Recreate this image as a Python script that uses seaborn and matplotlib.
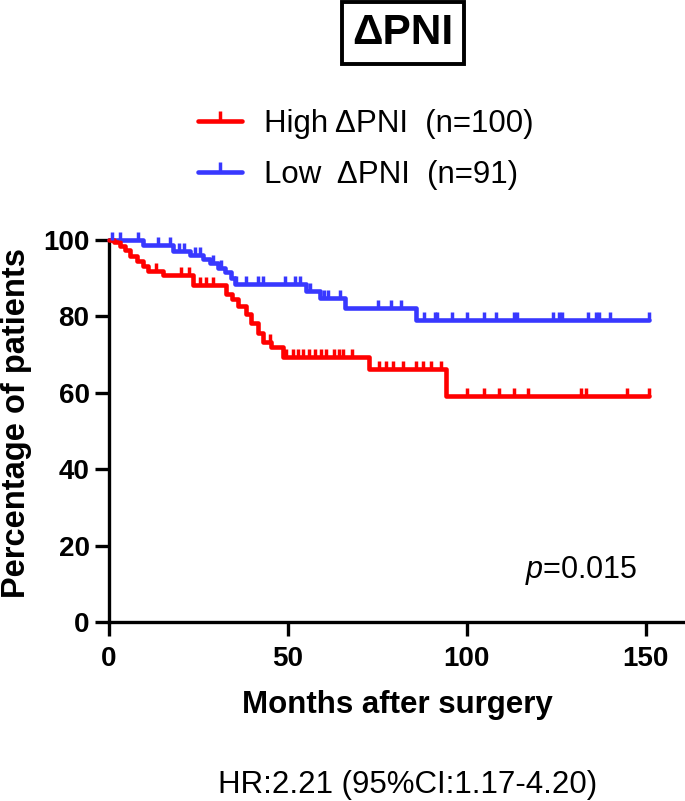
import numpy as np
import pandas as pd
import matplotlib
matplotlib.use("Agg")
import matplotlib.pyplot as plt
import seaborn as sns
from matplotlib.lines import Line2D

# ---------------- data ----------------
group_labels = ["High ΔPNI  (n=100)", "Low  ΔPNI  (n=91)"]
group_colors = ["#FF0000", "#3838FF"]

high_times = [0, 1.5, 3.1, 4.5, 5.9, 7.7, 9.6, 11.0, 15.2, 23.5, 32.8, 34.5, 36.1,
              38.4, 39.8, 41.7, 43.1, 45.4, 48.5, 72.8, 94.2]
high_surv = [100, 99.5, 98.3, 97.3, 95.9, 94.6, 93.3, 91.9, 90.8, 88.2, 85.9, 84.6, 82.7,
             80.6, 78.3, 75.7, 73.4, 71.9, 69.5, 66.2, 59.2]
high_censor = [13, 20, 22.3, 25.5, 27, 29, 45, 49.6, 51.4, 52.8, 54.2, 56, 57.5, 59.3,
               60.7, 63, 64.4, 65.4, 67.9, 75.6, 77.5, 79.3, 82.1, 85.8, 87.9, 90, 92.8,
               100.2, 104.9, 109.1, 113.1, 117, 131.8, 133.2, 144.9, 151]

low_times = [0, 9.6, 17.9, 22.6, 26.3, 28.2, 30.5, 32.4, 34.2, 35.1, 55.1, 58.9, 65.9, 85.9]
low_surv = [100, 98.7, 97.1, 96.1, 95.0, 94.0, 92.7, 91.6, 90.1, 88.5, 86.6, 84.9, 82.3, 79.1]
low_censor = [0.7, 3.1, 8.2, 13.8, 17.0, 19.5, 21, 24, 25.4, 29, 31.4, 35.6, 38.4, 41.7,
              43.1, 49.1, 52, 53.3, 56.3, 60, 61.2, 64.5, 75.1, 78.9, 81.6, 88.1, 91, 91.8,
              96, 100.2, 104.9, 108.1, 113.2, 114, 124, 125.8, 126.7, 134, 136, 137, 140, 151]

follow_up_end = 151
x_ticks = [0, 50, 100, 150]
y_ticks = [0, 20, 40, 60, 80, 100]
title_text = "ΔPNI"
xlabel_text = "Months after surgery"
ylabel_text = "Percentage of patients"
p_text = r"$\mathit{p}$=0.015"
hr_text = "HR:2.21 (95%CI:1.17-4.20)"

# ---------------- build tables ----------------
def curve_df(times, surv, label):
    t = list(times) + [follow_up_end]
    s = list(surv) + [surv[-1]]
    return pd.DataFrame({"time": t, "surv": s, "group": label})

def censor_df(times, surv, ctimes, label):
    tt = np.asarray(times)
    ss = np.asarray(surv)
    idx = np.searchsorted(tt, np.asarray(ctimes), side="right") - 1
    return pd.DataFrame({"time": ctimes, "surv": ss[idx], "group": label})

curves = pd.concat([curve_df(low_times, low_surv, group_labels[1]),
                    curve_df(high_times, high_surv, group_labels[0])], ignore_index=True)
cens = pd.concat([censor_df(low_times, low_surv, low_censor, group_labels[1]),
                  censor_df(high_times, high_surv, high_censor, group_labels[0])], ignore_index=True)
palette = dict(zip(group_labels, group_colors))

# ---------------- style ----------------
sns.set_style("ticks")
plt.rcParams["font.family"] = ["Liberation Sans", "DejaVu Sans"]
plt.rcParams["mathtext.fontset"] = "custom"
plt.rcParams["mathtext.it"] = "Liberation Sans:italic"
plt.rcParams["mathtext.rm"] = "Liberation Sans"
for k in ["text.color", "axes.labelcolor", "xtick.color", "ytick.color", "axes.edgecolor"]:
    plt.rcParams[k] = "black"

fig = plt.figure(figsize=(6.85, 8.01), dpi=100)
ax = fig.add_axes([109/685, 1-622/801, 576/685, (622-240)/801])

for g in [group_labels[1], group_labels[0]]:
    sns.lineplot(data=curves[curves.group == g], x="time", y="surv", color=palette[g],
                 drawstyle="steps-post", lw=3.3, estimator=None, sort=True,
                 clip_on=False, ax=ax, legend=False, zorder=3 if g == group_labels[0] else 2)
    sns.scatterplot(data=cens[cens.group == g], x="time", y="surv", color=palette[g],
                    marker=2, s=36, linewidth=2.5, clip_on=False, ax=ax, legend=False,
                    zorder=4)

ax.set_xlim(0, 161)
ax.set_ylim(0, 100)
ax.set_xticks(x_ticks)
ax.set_yticks(y_ticks)
ax.set_xlabel("")
ax.set_ylabel("")
for s in ["top", "right"]:
    ax.spines[s].set_visible(False)
for s in ["left", "bottom"]:
    ax.spines[s].set_linewidth(2.4)
    ax.spines[s].set_color("black")
ax.tick_params(axis="both", length=10, width=2.4, labelsize=20, color="black",
               labelcolor="black")
ax.tick_params(axis="x", pad=7)
ax.tick_params(axis="y", pad=4)
for lab in ax.get_xticklabels() + ax.get_yticklabels():
    lab.set_fontweight("bold")

ax.text(132, 13.4, p_text, fontsize=22, ha="center", va="center", color="black")

fig.text(397/685, 1-705/801, xlabel_text, fontsize=22.5, fontweight="bold",
         ha="center", va="center", color="black")
fig.text(17/685, 1-423/801, ylabel_text, fontsize=23.5, fontweight="bold",
         rotation=90, ha="center", va="center", color="black")
fig.text(408/685, 1-785/801, hr_text, fontsize=22.5, ha="center", va="center",
         color="black")

fig.text(403/685, 1-33/801, title_text, fontsize=30.5, fontweight="bold",
         ha="center", va="center", color="black",
         bbox=dict(boxstyle="square,pad=0.25", fc="white", ec="black", lw=2.8))

handles = [Line2D([], [], color=c, lw=3.3, marker=2, markersize=7, mew=2.5)
           for c in group_colors]
fig.legend(handles, group_labels, loc="upper left", bbox_to_anchor=(198/685, 1-109/801),
           frameon=False, fontsize=22.5, handlelength=1.4, handletextpad=0.7,
           labelspacing=0.66, borderpad=0, borderaxespad=0, numpoints=1,
           labelcolor="black")

fig.savefig("out.png", dpi=100)
